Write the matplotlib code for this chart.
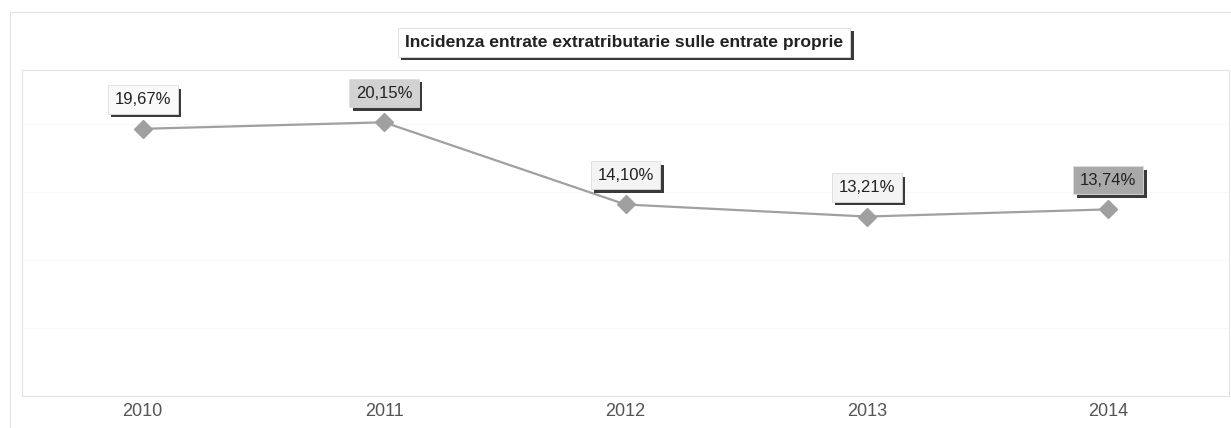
import matplotlib.pyplot as plt
import matplotlib.patheffects as pe
from matplotlib.patches import Rectangle

plt.rcParams['font.family'] = ['Liberation Sans', 'DejaVu Sans']

# data
years = ['2010', '2011', '2012', '2013', '2014']
incidenza = [19.67, 20.15, 14.10, 13.21, 13.74]
labels = ['19,67%', '20,15%', '14,10%', '13,21%', '13,74%']
box_colors = ['#fafafa', '#d2d2d2', '#f4f4f4', '#f4f4f4', '#a9a9a9']

fig = plt.figure(figsize=(12.31, 4.28), dpi=100)

# outer frame of the chart
fig.patches.append(Rectangle((10 / 1231, -0.05), 1.0, 1 - 12 / 428 + 0.05,
                             transform=fig.transFigure, fill=False,
                             edgecolor='#e2e2e2', linewidth=0.8))

ax = fig.add_axes([22 / 1231, 1 - 396 / 428, (1229 - 22) / 1231, (396 - 70) / 428])
x = list(range(len(years)))
ax.plot(x, incidenza, color='#a0a0a0', linewidth=1.6, marker='D', markersize=9,
        markerfacecolor='#a0a0a0', markeredgecolor='#a0a0a0', zorder=3)

ax.set_xlim(-0.5, len(years) - 0.5)
ax.set_ylim(0, 24)
ax.set_xticks(x)
ax.set_xticklabels(years, fontsize=13, color='#555555')
ax.set_yticks([5, 10, 15, 20])
ax.tick_params(axis='y', left=False, labelleft=False)
ax.tick_params(axis='x', length=0, pad=5)
ax.grid(axis='y', color='#f8f8f8', linewidth=0.8)
for s in ax.spines.values():
    s.set_color('#e4e4e4')
    s.set_linewidth(0.8)

shadow = [pe.withSimplePatchShadow(offset=(2.5, -2.5), shadow_rgbFace='#3a3a3a', alpha=1.0)]

for xi, v, lab, bc in zip(x, incidenza, labels, box_colors):
    t = ax.annotate(lab, (xi, v), xytext=(0, 21), textcoords='offset points',
                    ha='center', va='center', fontsize=12, color='#222222',
                    bbox=dict(boxstyle='square,pad=0.4', facecolor=bc,
                              edgecolor='#dddddd', linewidth=0.6), zorder=5)
    t.get_bbox_patch().set_path_effects(shadow)

title = fig.text(624 / 1231, 1 - 42 / 428, 'Incidenza entrate extratributarie sulle entrate proprie',
                 ha='center', va='center', fontsize=12.6, fontweight='bold', color='#222222',
                 bbox=dict(boxstyle='square,pad=0.4', facecolor='white',
                           edgecolor='#dddddd', linewidth=0.6))
title.get_bbox_patch().set_path_effects(shadow)

fig.savefig('out.png', dpi=100)
